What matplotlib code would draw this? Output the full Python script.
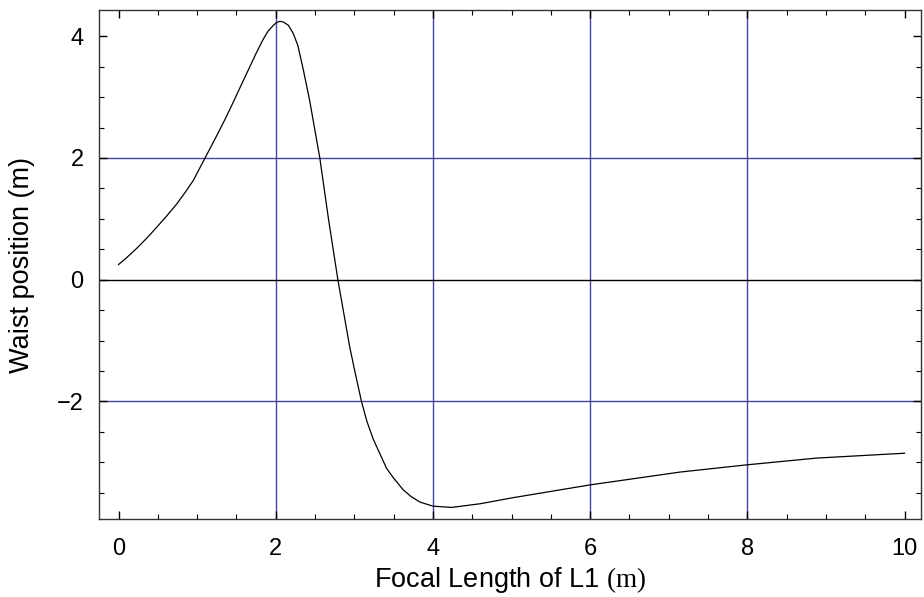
import matplotlib
matplotlib.use("Agg")
import matplotlib.pyplot as plt
from matplotlib.ticker import MultipleLocator

plt.rcParams['font.family'] = ['Liberation Sans', 'DejaVu Sans']
plt.rcParams['mathtext.fontset'] = 'custom'
plt.rcParams['mathtext.rm'] = 'Liberation Serif'

focal_length = [0.0, 0.1, 0.23, 0.36, 0.48, 0.61, 0.74, 0.85, 0.95, 1.10, 1.25, 1.36, 1.46,
                1.55, 1.63, 1.75, 1.84, 1.90, 1.97, 2.01,
                2.055, 2.10, 2.16, 2.22, 2.28, 2.35, 2.43, 2.56, 2.67, 2.79, 2.94, 3.0,
                3.09, 3.16, 3.24, 3.41, 3.5, 3.62, 3.72, 3.83, 4.0, 4.24, 4.6, 5.02,
                6.0, 6.76, 7.14, 8.0, 8.88, 10.0]
waist_position = [0.25, 0.36, 0.515, 0.685, 0.855, 1.045, 1.245, 1.44, 1.63, 2.0, 2.37, 2.65, 2.92,
                  3.17, 3.39, 3.72, 3.95, 4.08, 4.18, 4.225,
                  4.245, 4.23, 4.18, 4.05, 3.85, 3.45, 2.95, 2.0, 1.0, 0.0, -1.1, -1.47,
                  -2.0, -2.33, -2.62, -3.1, -3.26, -3.45, -3.56, -3.65, -3.72, -3.74, -3.68, -3.58,
                  -3.37, -3.23, -3.16, -3.04, -2.93, -2.85]

x_major = [0, 2, 4, 6, 8, 10]
y_major = [-2, 0, 2, 4]
y_labels = ['\u22122', '0', '2', '4']
x_grid = [2, 4, 6, 8]
y_grid = [-2, 2]

fig = plt.figure(figsize=(9.24, 5.97), dpi=100)
ax = fig.add_axes([0.1071, 0.1307, 0.8897, 0.8525])

grid_color = '#4646a0'
for gx in x_grid:
    ax.axvline(gx, color=grid_color, lw=1.0, zorder=1)
for gy in y_grid:
    ax.axhline(gy, color=grid_color, lw=1.0, zorder=1)
ax.axhline(0, color='black', lw=1.0, zorder=1)

ax.plot(focal_length, waist_position, color='black', lw=0.9, zorder=3)

ax.set_xlim(-0.25, 10.21)
ax.set_ylim(-3.93, 4.43)

ax.xaxis.set_minor_locator(MultipleLocator(0.5))
ax.yaxis.set_minor_locator(MultipleLocator(0.5))
ax.set_xticks(x_major)
ax.set_yticks(y_major)
ax.set_yticklabels(y_labels)

ax.tick_params(which='both', direction='in', top=True, right=True, colors='black',
               labelsize=17)
ax.tick_params(axis='x', which='major', length=6, width=1.0, pad=14)
ax.tick_params(axis='y', which='major', length=6, width=1.0, pad=11)
ax.tick_params(which='minor', length=3.5, width=0.8)
for sp in ax.spines.values():
    sp.set_linewidth(1.0)
    sp.set_color('#333333')

ax.set_xlabel('Focal Length of L1 $\\mathrm{(m)}$', fontsize=19.5, labelpad=3)
ax.set_ylabel('Waist position (m)', fontsize=19.5)
ax.yaxis.set_label_coords(-0.078, 0.5)

fig.savefig('out.png', dpi=100)
